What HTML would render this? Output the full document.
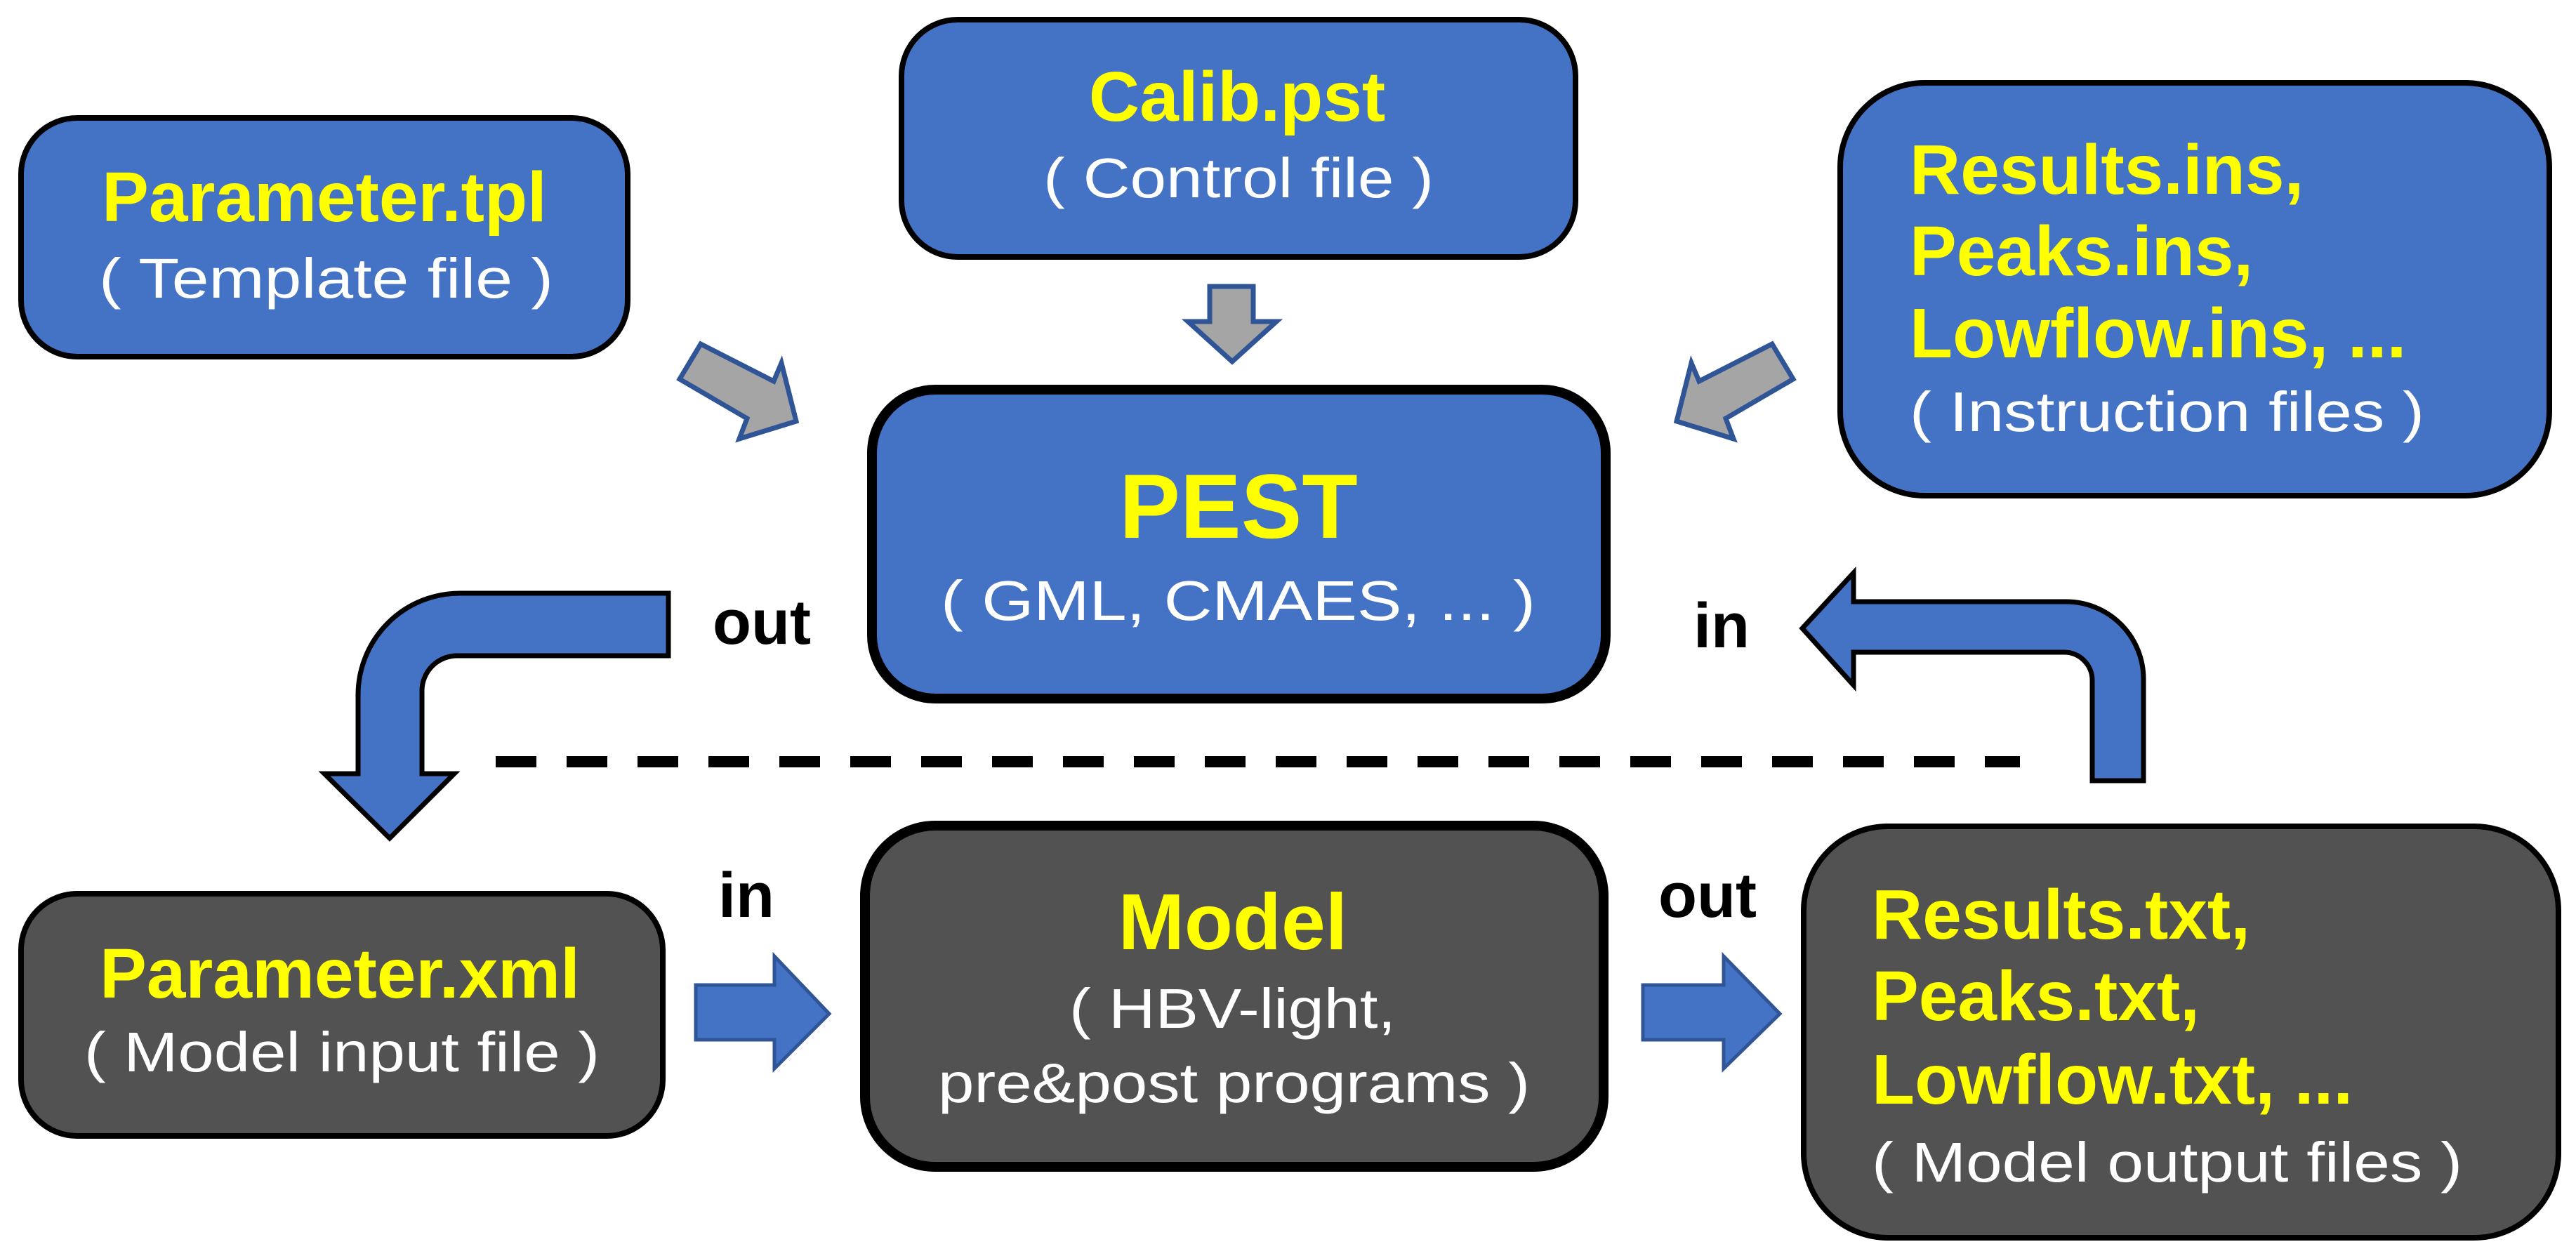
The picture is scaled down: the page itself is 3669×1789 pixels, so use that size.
<!DOCTYPE html>
<html><head><meta charset="utf-8"><style>
html,body{margin:0;padding:0;background:#fff;}
svg{display:block;}
text{font-family:"Liberation Sans",Arial,sans-serif;}
.t{font-weight:bold;fill:#FFFF00;font-size:100px;}
.s{fill:#fff;font-size:80px;}
.l{font-weight:bold;fill:#000;font-size:90px;}
</style></head><body>
<svg width="3669" height="1789" viewBox="0 0 3669 1789" xmlns="http://www.w3.org/2000/svg">
<!-- top boxes -->
<rect x="30" y="168" width="864" height="340" rx="80" fill="#4472C4" stroke="#000" stroke-width="8"/>
<rect x="1284" y="28" width="960" height="338" rx="80" fill="#4472C4" stroke="#000" stroke-width="8"/>
<rect x="2621" y="118" width="1010" height="588" rx="120" fill="#4472C4" stroke="#000" stroke-width="8"/>
<rect x="1242" y="555" width="1045" height="440" rx="90" fill="#4472C4" stroke="#000" stroke-width="14"/>
<!-- bottom boxes -->
<rect x="30" y="1273" width="914" height="345" rx="80" fill="#525252" stroke="#000" stroke-width="8"/>
<rect x="1232" y="1176" width="1052" height="486" rx="100" fill="#525252" stroke="#000" stroke-width="14"/>
<rect x="2569" y="1177" width="1075" height="586" rx="120" fill="#525252" stroke="#000" stroke-width="8"/>

<!-- gray arrows -->
<polygon points="1723,408 1785,408 1785,458 1818,458 1755,515 1692,458 1723,458" fill="#A5A5A5" stroke="#2F5597" stroke-width="7"/>
<polygon points="998,490 1102,543 1113,517 1134,600 1053,625 1064,596 968,540" fill="#A5A5A5" stroke="#2F5597" stroke-width="7"/>
<polygon points="2524,490 2420,543 2409,517 2388,600 2469,625 2458,596 2554,540" fill="#A5A5A5" stroke="#2F5597" stroke-width="7"/>

<!-- dashed line -->
<line x1="706" y1="1085" x2="2877" y2="1085" stroke="#000" stroke-width="16" stroke-dasharray="58,43"/>

<!-- out bent arrow (left) -->
<path d="M952,845 L655,845 A145,145 0 0 0 510,990 L510,1102 L462,1102 L555,1194 L647,1102 L601,1102 L601,984 A50,50 0 0 1 651,934 L952,934 Z" fill="#4472C4" stroke="#000" stroke-width="7"/>
<!-- in bent arrow (right) -->
<path d="M3053,1112 L3053,967 A110,110 0 0 0 2943,857 L2640,857 L2640,816 L2567,895 L2640,976 L2640,929 L2940,929 A40,40 0 0 1 2980,969 L2980,1112 Z" fill="#4472C4" stroke="#000" stroke-width="7"/>

<!-- horizontal block arrows -->
<polygon points="991,1403 1103,1403 1103,1362 1181,1444 1103,1522 1103,1481 991,1481" fill="#4472C4" stroke="#2F5597" stroke-width="5"/>
<polygon points="2340,1403 2455,1403 2455,1362 2535,1444 2455,1522 2455,1481 2340,1481" fill="#4472C4" stroke="#2F5597" stroke-width="5"/>

<!-- labels -->
<text class="l" x="1015" y="917">out</text>
<text class="l" x="2412" y="922">in</text>
<text class="l" x="1023" y="1306">in</text>
<text class="l" x="2362" y="1306">out</text>

<!-- texts -->
<text class="t" x="462" y="315" text-anchor="middle">Parameter.tpl</text>
<text class="s" x="141" y="424" textLength="647" lengthAdjust="spacingAndGlyphs">( Template file )</text>

<text class="t" x="1762" y="172" text-anchor="middle">Calib.pst</text>
<text class="s" x="1486" y="281" textLength="556" lengthAdjust="spacingAndGlyphs">( Control file )</text>

<text class="t" x="2720" y="276">Results.ins,</text>
<text class="t" x="2720" y="392">Peaks.ins,</text>
<text class="t" x="2720" y="509">Lowflow.ins, ...</text>
<text class="s" x="2720" y="614" textLength="733" lengthAdjust="spacingAndGlyphs">( Instruction files )</text>

<text class="t" x="1764" y="766" text-anchor="middle" style="font-size:130px">PEST</text>
<text class="s" x="1340" y="883" textLength="847" lengthAdjust="spacingAndGlyphs">( GML, CMAES, ... )</text>

<text class="t" x="484" y="1421" text-anchor="middle">Parameter.xml</text>
<text class="s" x="120" y="1526" textLength="734" lengthAdjust="spacingAndGlyphs">( Model input file )</text>

<text class="t" x="1756" y="1352" text-anchor="middle" style="font-size:113px">Model</text>
<text class="s" x="1523" y="1464" textLength="465" lengthAdjust="spacingAndGlyphs">( HBV-light,</text>
<text class="s" x="1336" y="1570" textLength="843" lengthAdjust="spacingAndGlyphs">pre&amp;post programs )</text>

<text class="t" x="2666" y="1337">Results.txt,</text>
<text class="t" x="2666" y="1453">Peaks.txt,</text>
<text class="t" x="2666" y="1572">Lowflow.txt, ...</text>
<text class="s" x="2666" y="1683" textLength="841" lengthAdjust="spacingAndGlyphs">( Model output files )</text>
</svg>
</body></html>
